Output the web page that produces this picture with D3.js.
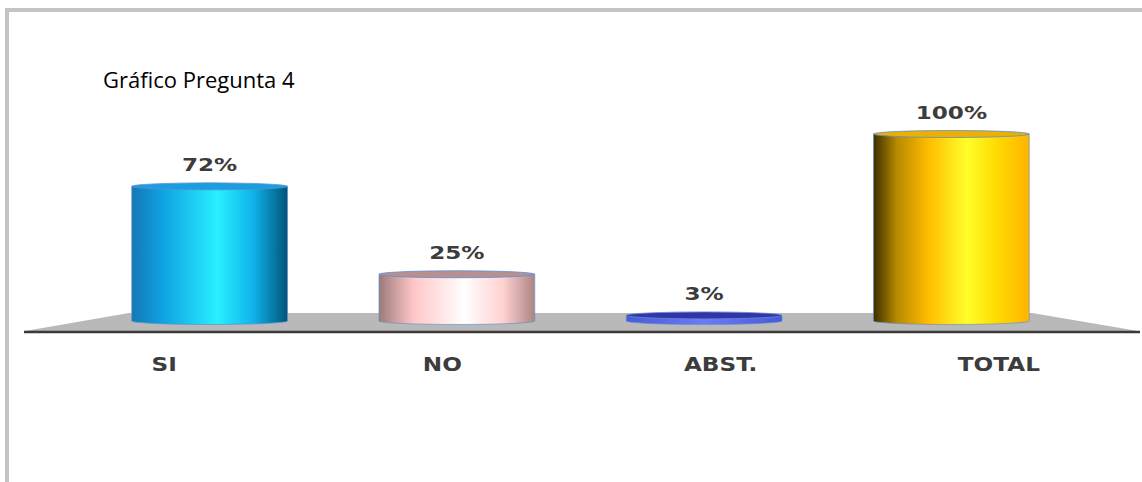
<!DOCTYPE html>
<html>
<head>
<meta charset="utf-8">
<script src="https://cdn.jsdelivr.net/npm/d3@7"></script>
<style>
  body { margin: 0; background: #fff; }
</style>
</head>
<body>
<svg id="chart" width="1142" height="482"></svg>
<script>
const categories = ['SI', 'NO', 'ABST.', 'TOTAL'];
const values = [72, 25, 3, 100];
const valueLabels = ['72%', '25%', '3%', '100%'];
const title = 'Gráfico Pregunta 4';

// shading for each cylinder: side gradient stops and top colour
const sideStops = [
  [[0, '#1478b4'], [0.2, '#0fa2e2'], [0.55, '#28f0ff'], [0.78, '#10b2ea'], [1, '#005478']],
  [[0, '#9c7a7a'], [0.22, '#ffc6c6'], [0.55, '#ffffff'], [0.8, '#ffd0d0'], [1, '#aa8484']],
  [[0, '#4a58d8'], [0.5, '#6a7cf4'], [1, '#4a58d8']],
  [[0, '#3c2e00'], [0.15, '#b88a00'], [0.35, '#ffbc00'], [0.6, '#ffff2a'], [0.8, '#ffd800'], [1, '#ffb400']]
];
const topColors = ['#1a9ee0', '#b89090', '#3434a8', '#eeb000'];

const svg = d3.select('#chart');
const defs = svg.append('defs');

sideStops.forEach((stops, i) => {
  const g = defs.append('linearGradient').attr('id', 'side' + i)
    .attr('x1', '0%').attr('x2', '100%').attr('y1', '0%').attr('y2', '0%');
  stops.forEach(s => g.append('stop').attr('offset', s[0]).attr('stop-color', s[1]));
});

// outer frame
svg.append('rect')
  .attr('x', 7).attr('y', 10).attr('width', 1160).attr('height', 500)
  .style('fill', 'none').style('stroke', '#c4c4c4').style('stroke-width', 4);

svg.append('text')
  .attr('x', 103).attr('y', 88)
  .style('font-family', '"Open Sans", sans-serif')
  .style('font-size', '22px')
  .style('fill', '#000')
  .text(title);

const baseY = 321;
const y = d3.scaleLinear().domain([0, 100]).range([baseY, 134]);
// back of the floor (cylinders) and front edge (labels)
const xBack = d3.scaleBand().domain(categories).range([86, 1075]).paddingInner(0.37).paddingOuter(0.185);
const xFront = d3.scaleBand().domain(categories).range([25, 1138]);

// floor
svg.append('path')
  .attr('d', d3.line()([[129, 313], [1032, 313], [1138, 331], [25, 331]]) + 'Z')
  .style('fill', '#b9b9b9');
svg.append('line')
  .attr('x1', 24).attr('x2', 1140).attr('y1', 332).attr('y2', 332)
  .style('stroke', '#3a3a3a').style('stroke-width', 2.5);

// wide bold text, stretched like the original chart image
function wideText(g, cx, cy, txt, size, sx) {
  g.append('text')
    .attr('transform', `translate(${cx},${cy}) scale(${sx},1)`)
    .attr('text-anchor', 'middle')
    .style('font-family', '"DejaVu Sans", sans-serif')
    .style('font-weight', 'bold')
    .style('font-size', size + 'px')
    .style('fill', '#3c3c3c')
    .text(txt);
}

const ry = 3.5;
const cyl = svg.append('g');
const labels = svg.append('g');
categories.forEach((c, i) => {
  const x0 = xBack(c), x1 = x0 + xBack.bandwidth(), rx = xBack.bandwidth() / 2;
  const top = y(values[i]);
  cyl.append('path')
    .attr('d', `M${x0},${top} L${x0},${baseY} A${rx},${ry} 0 0 0 ${x1},${baseY} L${x1},${top} Z`)
    .style('fill', `url(#side${i})`)
    .style('stroke', '#5b8fd0').style('stroke-width', 0.8).style('stroke-opacity', 0.8);
  cyl.append('ellipse')
    .attr('cx', x0 + rx).attr('cy', top).attr('rx', rx).attr('ry', ry)
    .style('fill', topColors[i])
    .style('stroke', '#5b8fd0').style('stroke-width', 0.8);
  wideText(labels, x0 + rx, top - 15, valueLabels[i], 18.5, 1.25);
});

categories.forEach(c => {
  wideText(labels, xFront(c) + xFront.bandwidth() / 2, 371, c, 19, 1.22);
});
</script>
</body>
</html>
